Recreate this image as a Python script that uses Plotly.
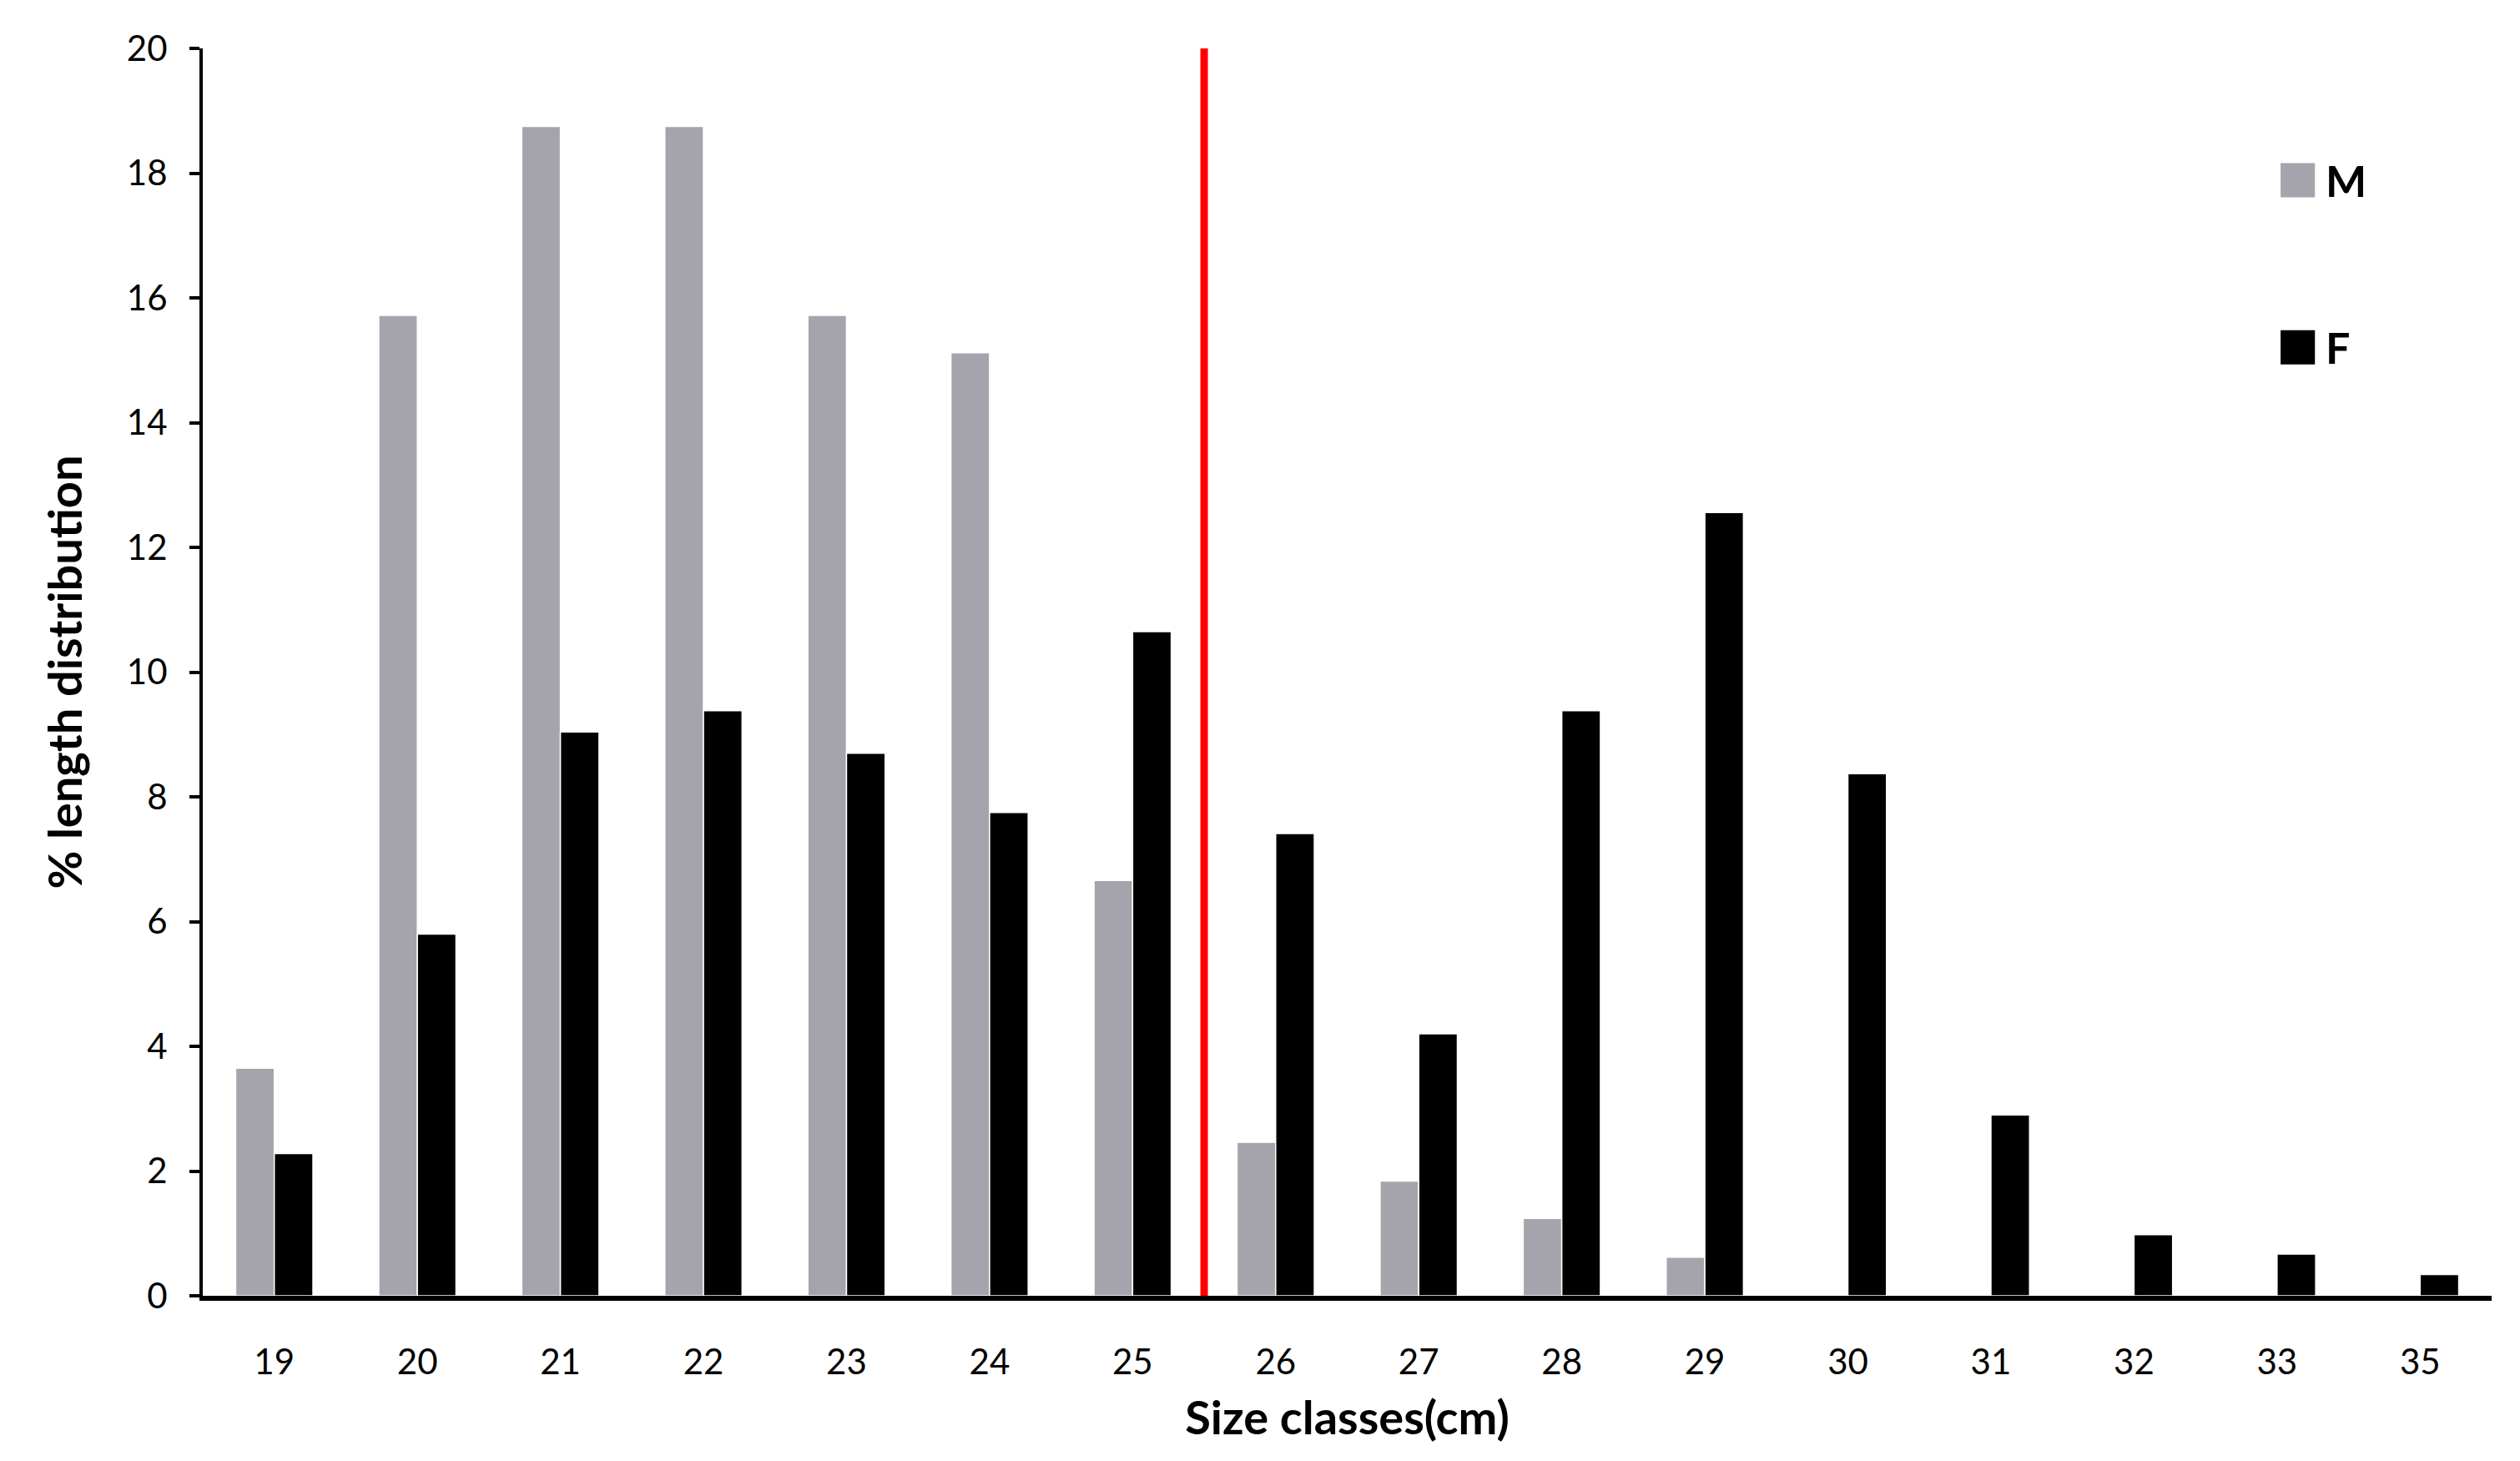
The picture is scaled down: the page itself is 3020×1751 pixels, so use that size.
import plotly.graph_objects as go

# ---------------------------------------------------------------------------
# Data — % length distribution by size class (cm), males vs females
# ---------------------------------------------------------------------------

SIZE_CLASSES = ["19", "20", "21", "22", "23", "24", "25", "26",
                "27", "28", "29", "30", "31", "32", "33", "35"]

MALE_PCT = [3.65, 15.72, 18.75, 18.75, 15.72, 15.12, 6.66, 2.46,
            1.84, 1.24, 0.62, 0, 0, 0, 0, 0]

FEMALE_PCT = [2.28, 5.80, 9.04, 9.38, 8.70, 7.75, 10.65, 7.41,
              4.20, 9.38, 12.56, 8.37, 2.90, 0.98, 0.67, 0.34]

# size at first maturity falls between these two classes
MATURITY_BETWEEN = ("25", "26")

SERIES = [("M", MALE_PCT, "#A5A4AC"), ("F", FEMALE_PCT, "black")]

FONT = "Lato, Carlito, 'Open Sans', sans-serif"

fig = go.Figure()

for name, values, colour in SERIES:
    fig.add_trace(go.Bar(
        x=SIZE_CLASSES, y=values, name=name,
        marker=dict(color=colour, line=dict(color="white", width=1.5)),
        showlegend=False,
    ))

# Hand-drawn legend: plotly caps legend swatch size, the original uses big squares
legend_top = [0.908, 0.774]   # paper y of each swatch's top edge
swatch_x0, swatch_w, swatch_h = 0.9078, 0.0150, 0.0274
for (name, _, colour), top in zip(SERIES, legend_top):
    fig.add_shape(
        type="rect", xref="paper", yref="paper",
        x0=swatch_x0, x1=swatch_x0 + swatch_w, y0=top - swatch_h, y1=top,
        fillcolor=colour, line=dict(width=0),
    )
    fig.add_annotation(
        xref="paper", yref="paper", x=swatch_x0 + swatch_w + 0.004,
        y=top - swatch_h / 2,
        text=f"<b>{name}</b>", showarrow=False,
        xanchor="left", yanchor="middle",
        font=dict(size=52, family=FONT, color="black"),
    )

# Red divider between the two classes around maturity
i0 = SIZE_CLASSES.index(MATURITY_BETWEEN[0])
i1 = SIZE_CLASSES.index(MATURITY_BETWEEN[1])
x_div = (i0 + i1) / 2
fig.add_shape(
    type="line", xref="x", yref="y",
    x0=x_div, x1=x_div, y0=0, y1=20,
    line=dict(color="#FF0000", width=9),
    layer="above",
)

fig.update_layout(
    width=3020, height=1751,
    paper_bgcolor="white", plot_bgcolor="white",
    margin=dict(l=235, r=42, t=50, b=206),
    barmode="group", bargap=0.46, bargroupgap=0.0,
    font=dict(family=FONT, color="black", size=42),
    showlegend=False,
    xaxis=dict(
        range=[-0.5, len(SIZE_CLASSES) - 0.5],
        showline=True, linecolor="black", linewidth=6,
        showgrid=False, zeroline=False,
        ticks="", ticklabelstandoff=38,
        tickfont=dict(size=42, family=FONT),
        title=dict(text="<b>Size classes(cm)</b>",
                   font=dict(size=56, family=FONT), standoff=26),
    ),
    yaxis=dict(
        range=[0, 20], tickmode="linear", tick0=0, dtick=2,
        showline=True, linecolor="black", linewidth=4,
        showgrid=False, zeroline=False,
        ticks="outside", ticklen=12, tickwidth=4, tickcolor="black",
        ticklabelstandoff=18,
        tickfont=dict(size=42, family=FONT),
        title=dict(text="<b>% length distribution</b>",
                   font=dict(size=56, family=FONT), standoff=36),
    ),
)

fig.write_html("out.html")
